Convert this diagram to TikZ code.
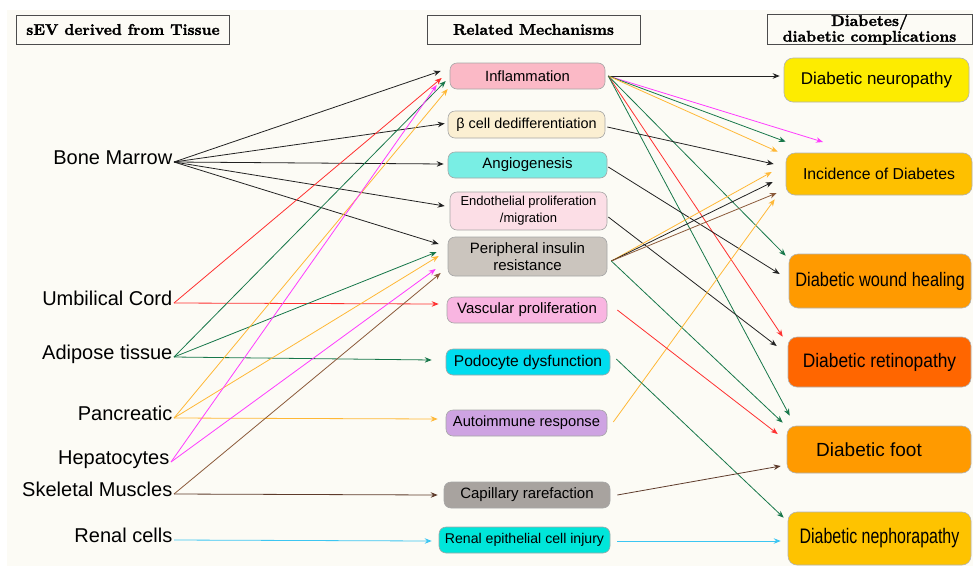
\documentclass[tikz,border=0pt]{standalone}
\usepackage{fontspec}
\usepackage{tikz}
\usetikzlibrary{arrows.meta}
\newfontfamily\arialfont{Liberation Sans}
\newfontfamily\hdfont{lmroman10-bold.otf}[FakeBold=1.6]

\definecolor{bgcream}{HTML}{FCFBF5}
\definecolor{lnblack}{HTML}{222222}
\definecolor{lnred}{HTML}{FF3030}
\definecolor{lngreen}{HTML}{17774A}
\definecolor{lnorange}{HTML}{FFB836}
\definecolor{lnmagenta}{HTML}{FF3CFF}
\definecolor{lnbrown}{HTML}{8B5A3A}
\definecolor{lndbrown}{HTML}{5E3B2B}
\definecolor{lncyan}{HTML}{3CC6F2}
\definecolor{fInfl}{HTML}{FBB9C6}
\definecolor{fBeta}{HTML}{FBEFD2}
\definecolor{fAngio}{HTML}{79EEE4}
\definecolor{fEndo}{HTML}{FCDEE6}
\definecolor{fPir}{HTML}{CBC5BE}
\definecolor{fVasc}{HTML}{F9B5E1}
\definecolor{fPodo}{HTML}{00DDEF}
\definecolor{fAuto}{HTML}{CEA3E2}
\definecolor{fCapi}{HTML}{A8A39F}
\definecolor{fRenal}{HTML}{00E6DA}
\definecolor{fNeuro}{HTML}{FDEC00}
\definecolor{fIncid}{HTML}{FEC000}
\definecolor{fWound}{HTML}{FF9A00}
\definecolor{fRetino}{HTML}{FF6600}
\definecolor{fNephro}{HTML}{FEC300}

\newcommand{\fsz}[1]{\arialfont\fontsize{#1}{17}\selectfont}
\newcommand{\narrow}[2]{\scalebox{#1}[1]{#2}}

\begin{document}
\begin{tikzpicture}[x=1pt,y=-1pt,
    hdr/.style={draw=black!70,line width=0.8pt,inner sep=0pt,align=center,
        font=\hdfont\fontsize{15.5}{11}\selectfont},
    src/.style={anchor=mid east,inner sep=1.5pt,font=\fsz{20}},
    mech/.style={draw=black!35,line width=0.6pt,rounded corners=7pt,inner sep=0pt,
        align=center,minimum height=26,font=\fsz{15}},
    comp/.style={draw=black!30,line width=0.6pt,rounded corners=9pt,inner sep=0pt,
        align=center,font=\fsz{17}},
    arr/.style={-{Stealth[length=7pt,width=5.5pt]},line width=0.8pt}]
    \useasboundingbox (0,0) rectangle (973,568);
    \fill[bgcream] (7,10) rectangle (973,566);

    \node[hdr,minimum width=213,minimum height=29] (hsrc) at (123,29.5) {sEV derived from Tissue};
    \node[hdr,minimum width=213,minimum height=29] (hmech) at (533.5,29.5) {Related Mechanisms};
    \node[hdr,minimum width=205,minimum height=29] (hdiab) at (869.5,29.5) {Diabetes/\\diabetic complications};

    \node[src] (bm) at (174,162) {Bone Marrow};
    \node[src] (uc) at (174,303) {Umbilical Cord};
    \node[src] (at) at (174,357) {Adipose tissue};
    \node[src] (pc) at (174,418) {Pancreatic};
    \node[src] (hp) at (171,462) {Hepatocytes};
    \node[src] (sm) at (174,494) {Skeletal Muscles};
    \node[src] (rc) at (174,540) {Renal cells};

    \node[mech,fill=fInfl,minimum width=155,font=\fsz{14.8}] (infl) at (527.5,76) {Inflammation};
    \node[mech,fill=fBeta,minimum width=157,minimum height=27,font=\fsz{14.4}] (beta) at (526.5,124.5) {β cell dedifferentiation};
    \node[mech,fill=fAngio,minimum width=159] (angio) at (527.5,165) {Angiogenesis};
    \node[mech,fill=fEndo,minimum width=157,minimum height=38,font=\fsz{13}] (endo) at (528.5,211) {Endothelial proliferation\\/migration};
    \node[mech,fill=fPir,minimum width=159,minimum height=39] (pir) at (527.5,256.5) {Peripheral insulin\\resistance};
    \node[mech,fill=fVasc,minimum width=160] (vasc) at (527,310) {Vascular proliferation};
    \node[mech,fill=fPodo,minimum width=164,font=\fsz{15.6}] (podo) at (528,362) {Podocyte dysfunction};
    \node[mech,fill=fAuto,minimum width=161,font=\fsz{14.7}] (auto) at (526.5,423) {Autoimmune response};
    \node[mech,fill=fCapi,minimum width=166] (capi) at (527,495) {Capillary rarefaction};
    \node[mech,fill=fRenal,minimum width=171,font=\fsz{14.1}] (renal) at (524.5,540) {Renal epithelial cell injury};

    \node[comp,fill=fNeuro,minimum width=185,minimum height=44] (neuro) at (876.5,80) {Diabetic neuropathy};
    \node[comp,fill=fIncid,minimum width=186,minimum height=42,font=\fsz{15.8}] (incid) at (879,174) {Incidence of Diabetes};
    \node[comp,fill=fWound,minimum width=182,minimum height=54,font=\fsz{19.5}] (wound) at (880,281) {\narrow{0.84}{Diabetic wound healing}};
    \node[comp,fill=fRetino,minimum width=183,minimum height=50,font=\fsz{19.5}] (retino) at (879.5,362) {\narrow{0.89}{Diabetic retinopathy}};
    \node[comp,fill=fWound,minimum width=184,minimum height=47,font=\fsz{19}] (foot) at (879,449.5) {\hspace*{-20pt}Diabetic foot};
    \node[comp,fill=fNephro,minimum width=183,minimum height=53,font=\fsz{21}] (nephro) at (879.5,538.5) {\narrow{0.76}{Diabetic nephorapathy}};

    \coordinate (mgend) at (823,142);

    \foreach \s/\t/\dx/\dy/\c in {bm/infl/-9/-5/lnblack, bm/beta/-3/-1/lnblack, bm/angio/-4/-1/lnblack,
        bm/endo/-5/-5/lnblack, bm/pir/-9/-12.5/lnblack, uc/infl/-8/2/lnred, uc/vasc/-8/-6/lnred,
        at/infl/-4/5/lngreen, at/pir/-11/-4.5/lngreen, at/podo/-14/-2/lngreen,
        pc/infl/-2/13/lnorange, pc/pir/-9/-0.5/lnorange, pc/auto/-8/-4/lnorange,
        hp/infl/-13/9/lnmagenta, hp/pir/-12/12.5/lnmagenta,
        sm/pir/-7/16.5/lnbrown, sm/capi/-6/0/lndbrown, rc/renal/-7/1/lncyan} {
        \draw[arr,draw=\c] (\s.mid east) -- ([shift={(\dx,\dy)}]\t.west);
    }

    \draw[arr,draw=lnmagenta] ([shift={(3,0)}]infl.east) -- (mgend);
    \foreach \s/\sx/\sy/\t/\dx/\dy/\c in {infl/3/0/neuro.west/-4/-4/lnblack,
        infl/3/0/incid.north west/0/-11/lngreen, infl/3/0/incid.north west/-8/-1/lnorange,
        infl/3/0/wound.north west/-3/2/lngreen, infl/3/0/retino.north west/-5/0/lnred,
        infl/3/0/foot.north west/3/-10/lngreen,
        beta/2/2.5/incid.west/-12/-10/lnblack, angio/1/2/wound.west/-9/-7/lnblack,
        endo/1/6/retino.west/-11/-16/lnblack,
        pir/4/4.5/incid.west/-14/-2/lnorange, pir/4/4.5/incid.west/-13/8/lnblack,
        pir/4/4.5/incid.west/-9/19/lnbrown, pir/4/4.5/foot.north west/-4/-3/lngreen,
        auto/6/-1/incid.south west/-11/4/lnorange, vasc/10/0/foot.west/-9/-15.5/lnred,
        podo/6/-3/nephro.north west/-4/6/lngreen, capi/7/0/foot.west/-6/16.5/lndbrown,
        renal/7/1/nephro.west/-7/2.5/lncyan} {
        \draw[arr,draw=\c] ([shift={(\sx,\sy)}]\s.east) -- ([shift={(\dx,\dy)}]\t);
    }
\end{tikzpicture}
\end{document}
